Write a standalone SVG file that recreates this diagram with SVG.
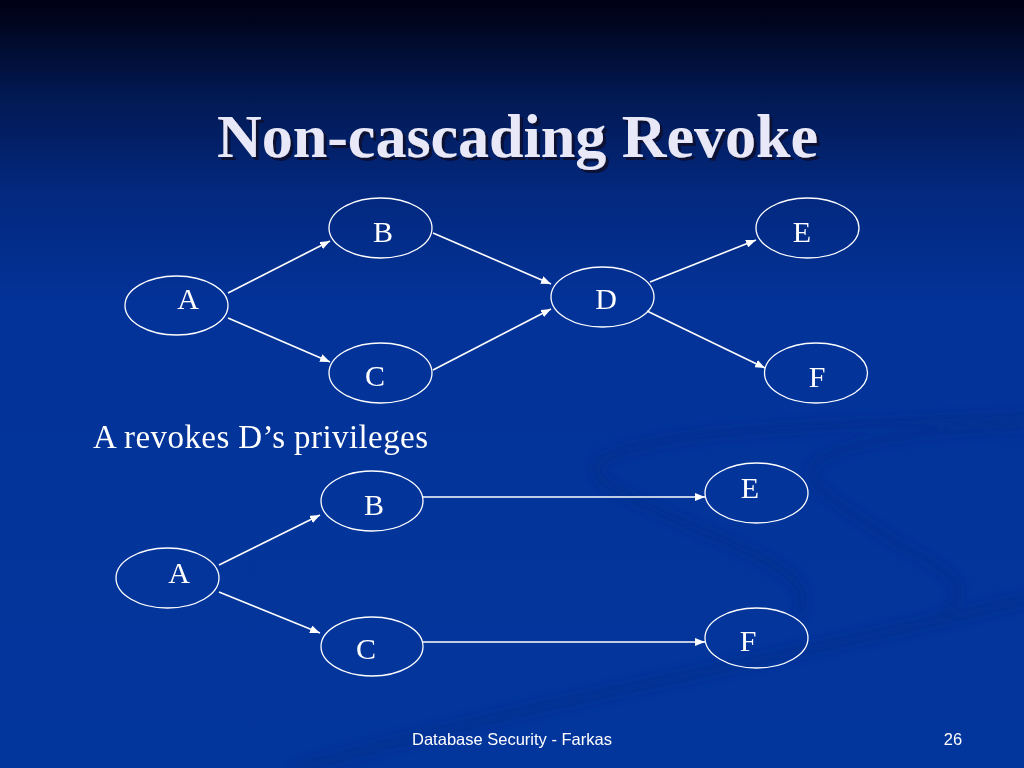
<svg xmlns="http://www.w3.org/2000/svg" width="1024" height="768" viewBox="0 0 1024 768">
  <defs>
    <linearGradient id="bg" x1="0" y1="0" x2="0" y2="1">
      <stop offset="0" stop-color="#000016"/>
      <stop offset="0.03" stop-color="#010620"/>
      <stop offset="0.12" stop-color="#021850"/>
      <stop offset="0.25" stop-color="#03287e"/>
      <stop offset="0.4" stop-color="#033399"/>
      <stop offset="1" stop-color="#03369c"/>
    </linearGradient>
    <filter id="blur" x="-10%" y="-10%" width="120%" height="120%">
      <feGaussianBlur stdDeviation="4"/>
    </filter>
    <filter id="shadow" x="-5%" y="-20%" width="110%" height="140%">
      <feOffset in="SourceAlpha" dx="3" dy="3" result="off"/>
      <feFlood flood-color="#0a0a2a" flood-opacity="0.85"/>
      <feComposite in2="off" operator="in" result="sh"/>
      <feMerge><feMergeNode in="sh"/><feMergeNode in="SourceGraphic"/></feMerge>
    </filter>
    <marker id="arr" viewBox="0 0 10 8" refX="10" refY="4" markerWidth="10" markerHeight="8" markerUnits="userSpaceOnUse" orient="auto">
      <path d="M0,0 L10,4 L0,8 z" fill="#ffffff"/>
    </marker>
    <style>
      .node ellipse { fill: none; stroke: #ffffff; stroke-width: 1.3; }
      .node text { font-family: "Liberation Serif", "Times New Roman", serif; font-size: 30px; fill: #ffffff; text-anchor: middle; }
      .edge { stroke: #ffffff; stroke-width: 1.6; fill: none; marker-end: url(#arr); }
      .swirl { fill: none; stroke: #022a80; stroke-linecap: round; opacity: 0.35; }
    </style>
  </defs>

  <rect x="0" y="0" width="1024" height="768" fill="url(#bg)"/>

  <g id="swirl" filter="url(#blur)">
    <path class="swirl" stroke-width="10" d="M1024,417 C820,425 640,430 600,462 C585,478 620,495 700,530 C770,560 815,580 800,612"/>
    <path class="swirl" stroke-width="8" d="M1024,427 C930,430 840,440 815,465 C800,480 830,500 900,545 C950,570 975,590 945,612"/>
    <path class="swirl" stroke-width="12" d="M1024,600 C900,630 760,660 620,690 C500,715 400,740 300,768"/>
  </g>

  <g id="title">
    <text x="517.5" y="157" font-family="'Liberation Serif', 'Times New Roman', serif" font-weight="bold" font-size="62" text-anchor="middle" fill="#e8e8f8" filter="url(#shadow)">Non-cascading Revoke</text>
  </g>

  <g id="connectors">
    <line class="edge" x1="228" y1="293" x2="330" y2="241"/>
    <line class="edge" x1="228" y1="318" x2="330" y2="362"/>
    <line class="edge" x1="433" y1="233" x2="551" y2="284"/>
    <line class="edge" x1="433" y1="370" x2="551" y2="309"/>
    <line class="edge" x1="650" y1="282" x2="756" y2="240"/>
    <line class="edge" x1="647" y1="311" x2="765" y2="368"/>
    <line class="edge" x1="219" y1="565" x2="320" y2="515"/>
    <line class="edge" x1="219" y1="592" x2="320" y2="633"/>
    <line class="edge" x1="423" y1="497" x2="705" y2="497"/>
    <line class="edge" x1="423" y1="642" x2="705" y2="642"/>
  </g>

  <g id="top-A" class="node"><ellipse cx="176.5" cy="305.5" rx="51.5" ry="29.5"/><text x="188" y="309">A</text></g>
  <g id="top-B" class="node"><ellipse cx="380.5" cy="228" rx="51.5" ry="30"/><text x="383" y="242">B</text></g>
  <g id="top-C" class="node"><ellipse cx="380.5" cy="373" rx="51.5" ry="30"/><text x="375" y="386">C</text></g>
  <g id="top-D" class="node"><ellipse cx="602.5" cy="297" rx="51.5" ry="30"/><text x="606" y="309">D</text></g>
  <g id="top-E" class="node"><ellipse cx="807.5" cy="228" rx="51.5" ry="30"/><text x="802" y="242">E</text></g>
  <g id="top-F" class="node"><ellipse cx="816" cy="373" rx="51.5" ry="30"/><text x="817" y="387">F</text></g>

  <text id="caption" x="93" y="448" font-family="'Liberation Serif', 'Times New Roman', serif" font-size="33" textLength="335" lengthAdjust="spacing" fill="#ffffff">A revokes D’s privileges</text>

  <g id="bot-A" class="node"><ellipse cx="167.5" cy="578" rx="51.5" ry="30"/><text x="179" y="583">A</text></g>
  <g id="bot-B" class="node"><ellipse cx="372" cy="501" rx="51" ry="30"/><text x="374" y="515">B</text></g>
  <g id="bot-C" class="node"><ellipse cx="372" cy="646.5" rx="51" ry="29.5"/><text x="366" y="659">C</text></g>
  <g id="bot-E" class="node"><ellipse cx="756.5" cy="493" rx="51.5" ry="30"/><text x="750" y="498">E</text></g>
  <g id="bot-F" class="node"><ellipse cx="756.5" cy="638" rx="51.5" ry="30"/><text x="748" y="651">F</text></g>

  <g id="footer" font-family="'Liberation Sans', Arial, sans-serif" font-size="16.5" fill="#ffffff">
    <text x="512" y="745" text-anchor="middle">Database Security - Farkas</text>
    <text x="953" y="745" text-anchor="middle">26</text>
  </g>
</svg>
